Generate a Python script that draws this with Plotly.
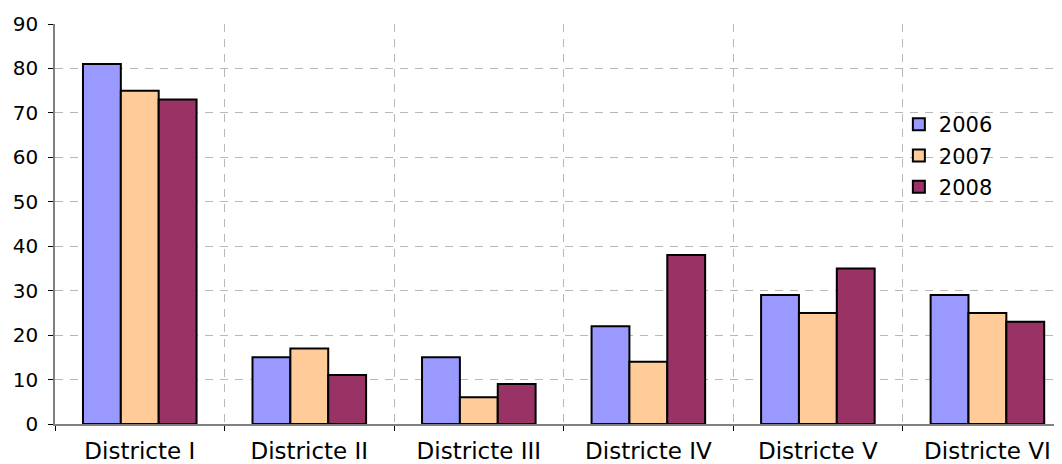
import plotly.graph_objects as go

categories = ["Districte I", "Districte II", "Districte III", "Districte IV", "Districte V", "Districte VI"]
v2006 = [81, 15, 15, 22, 29, 29]
v2007 = [75, 17, 6, 14, 25, 25]
v2008 = [73, 11, 9, 38, 35, 23]
series = [("2006", v2006, "#9999FF"), ("2007", v2007, "#FFCC99"), ("2008", v2008, "#993366")]

fig = go.Figure()
for name, vals, col in series:
    fig.add_trace(go.Bar(x=categories, y=vals, name=name, legendgroup=name,
                         marker=dict(color=col, line=dict(color="#000000", width=2))))

fig.update_layout(
    width=1054, height=456,
    margin=dict(l=47, r=0, t=16, b=40),
    paper_bgcolor="white", plot_bgcolor="white",
    barmode="group", bargap=0.33, bargroupgap=0,
    font=dict(family="DejaVu Sans, Verdana", size=20, color="#000000"),
    legend=dict(x=0.838, y=0.80, xanchor="left", yanchor="top", font=dict(size=21),
                bgcolor="rgba(255,255,255,0)", traceorder="grouped", tracegroupgap=1, itemwidth=30),
    xaxis=dict(range=[-0.5, 5.44], tickson="boundaries", showgrid=True, gridcolor="#B8B8B8",
               griddash="8px,7px", gridwidth=1.2, ticks="outside", ticklen=5, tickcolor="#000000",
               showline=True, linecolor="#808080", linewidth=1.5, tickfont=dict(size=23),
               ticklabelstandoff=6, automargin=False),
    yaxis=dict(range=[0, 90], dtick=10, showgrid=True, gridcolor="#B8B8B8", griddash="8px,7px",
               gridwidth=1.2, ticks="outside", ticklen=5, tickcolor="#000000", showline=True,
               linecolor="#808080", linewidth=1.5, zeroline=False, tickfont=dict(size=20),
               ticklabelstandoff=6, automargin=False),
)
fig.write_html("out.html")
